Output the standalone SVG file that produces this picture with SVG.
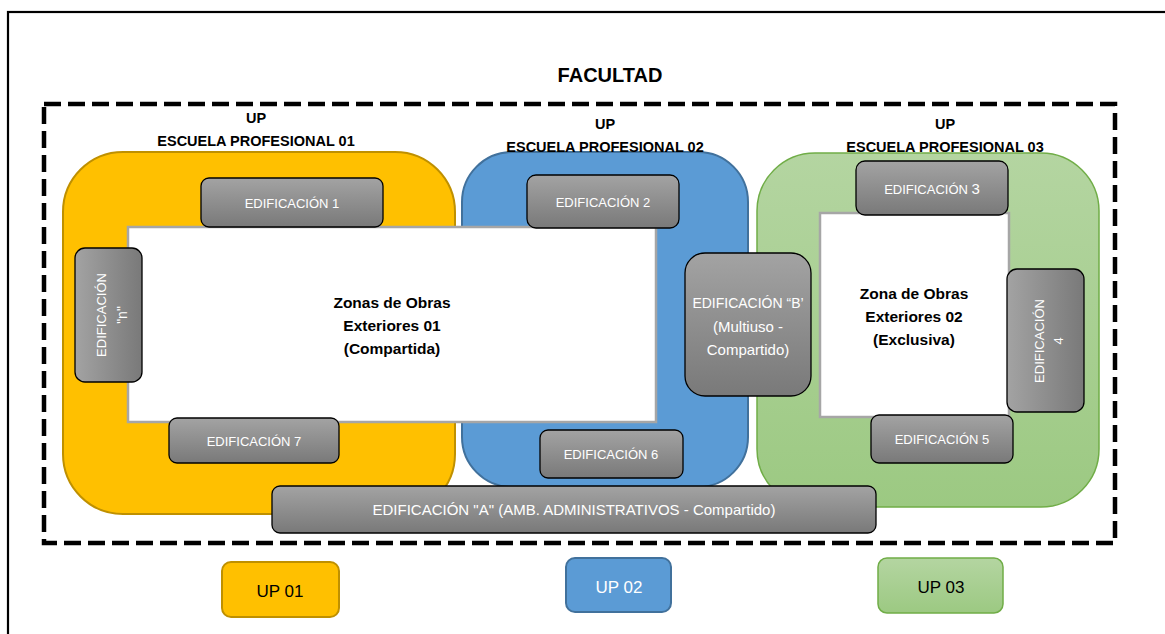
<svg xmlns="http://www.w3.org/2000/svg" width="1165" height="634" viewBox="0 0 1165 634">
<defs>
<linearGradient id="gv" x1="0" y1="0" x2="0" y2="1"><stop offset="0" stop-color="#A3A3A3"/><stop offset="1" stop-color="#797979"/></linearGradient>
<linearGradient id="gh" x1="0" y1="0" x2="1" y2="0"><stop offset="0" stop-color="#A3A3A3"/><stop offset="1" stop-color="#797979"/></linearGradient>
<linearGradient id="gg" x1="0" y1="0" x2="0" y2="1"><stop offset="0" stop-color="#B4D5A1"/><stop offset="1" stop-color="#9CC982"/></linearGradient>
<style>
.ed{fill:url(#gv);stroke:#000;stroke-width:1.3}
.edh{fill:url(#gh);stroke:#000;stroke-width:1.3}
.et{font-family:"Liberation Sans",Arial,sans-serif;font-size:13px;fill:#FFFFFF;text-anchor:middle}
.et14{font-size:14px}
.et15{font-size:15px}
.hd{font-family:"Liberation Sans",Arial,sans-serif;font-weight:bold;font-size:14.5px;fill:#000;text-anchor:middle}
.zt{font-family:"Liberation Sans",Arial,sans-serif;font-weight:bold;font-size:15.5px;fill:#000;text-anchor:middle}
.zone{fill:#FFFFFF;stroke:#A6A6A6;stroke-width:2.5}
.ut{font-family:"Liberation Sans",Arial,sans-serif;font-size:17px;text-anchor:middle}
</style>
</defs>
<rect x="0" y="0" width="1165" height="634" fill="#FFFFFF"/>
<rect id="frame" x="8" y="12" width="1200" height="700" fill="none" stroke="#000" stroke-width="2.2"/>
<g id="title"><text x="610" y="82" font-family="'Liberation Sans',Arial,sans-serif" font-weight="bold" font-size="20" text-anchor="middle">FACULTAD</text></g>
<g id="facultad-boundary"><rect x="44" y="104" width="1071" height="439" fill="none" stroke="#000" stroke-width="4.5" stroke-dasharray="17 7"/></g>

<g id="up01">
<rect x="63" y="152" width="392" height="362" rx="60" fill="#FFC000" stroke="#BF9000" stroke-width="2"/>
<text class="hd" x="256" y="123">UP</text>
<text class="hd" x="256" y="146">ESCUELA PROFESIONAL 01</text>
</g>
<g id="up02">
<rect x="462" y="152" width="286" height="335" rx="50" fill="#5B9BD5" stroke="#41719C" stroke-width="2"/>
<text class="hd" x="605" y="129">UP</text>
<text class="hd" x="605" y="152">ESCUELA PROFESIONAL 02</text>
</g>
<g id="up03">
<rect x="757" y="153" width="342" height="354" rx="58" fill="url(#gg)" stroke="#70AD47" stroke-width="1.5"/>
<text class="hd" x="945" y="129">UP</text>
<text class="hd" x="945" y="152">ESCUELA PROFESIONAL 03</text>
</g>

<g id="zona1">
<rect class="zone" x="128" y="227" width="528" height="195"/>
<text class="zt" x="392" y="308">Zonas de Obras</text>
<text class="zt" x="392" y="331">Exteriores 01</text>
<text class="zt" x="392" y="354">(Compartida)</text>
</g>
<g id="zona2">
<rect class="zone" x="820" y="213" width="189" height="204"/>
<text class="zt" x="914" y="299">Zona de Obras</text>
<text class="zt" x="914" y="322">Exteriores 02</text>
<text class="zt" x="914" y="345">(Exclusiva)</text>
</g>

<g id="ed1"><rect class="ed" x="201" y="178" width="182" height="49" rx="8"/><text class="et" x="292" y="208">EDIFICACIÓN 1</text></g>
<g id="ed2"><rect class="ed" x="527" y="175" width="152" height="53" rx="9"/><text class="et" x="603" y="207">EDIFICACIÓN 2</text></g>
<g id="ed3"><rect class="ed" x="856" y="161" width="152" height="54" rx="9"/><text class="et" x="932" y="194">EDIFICACIÓN <tspan style="font-size:15px">3</tspan></text></g>
<g id="edn"><rect class="edh" x="75" y="248" width="67" height="134" rx="10"/>
<g transform="translate(108.5,315) rotate(-90)"><text class="et" x="0" y="-3">EDIFICACIÓN</text><text class="et et14" x="0" y="18">"n"</text></g></g>
<g id="ed4"><rect class="edh" x="1007" y="269" width="77" height="143" rx="10"/>
<g transform="translate(1045.5,341) rotate(-90)"><text class="et" x="0" y="-2">EDIFICACIÓN</text><text class="et" x="0" y="17">4</text></g></g>
<g id="edB"><rect class="ed" x="685" y="253" width="126" height="143" rx="20"/>
<text class="et et14" x="748" y="308">EDIFICACIÓN “B’</text>
<text class="et et15" x="748" y="332">(Multiuso -</text>
<text class="et et15" x="748" y="355">Compartido)</text></g>
<g id="ed5"><rect class="ed" x="871" y="415" width="142" height="48" rx="8"/><text class="et" x="942" y="444">EDIFICACIÓN 5</text></g>
<g id="ed6"><rect class="ed" x="540" y="430" width="143" height="48" rx="8"/><text class="et" x="611" y="459">EDIFICACIÓN 6</text></g>
<g id="ed7"><rect class="ed" x="169" y="418" width="170" height="45" rx="8"/><text class="et" x="254" y="446">EDIFICACIÓN 7</text></g>
<g id="edA"><rect class="ed" x="272" y="486" width="604" height="47" rx="8"/><text class="et et15" x="574" y="515">EDIFICACIÓN "A" (AMB. ADMINISTRATIVOS - Compartido)</text></g>

<g id="leg01"><rect x="222" y="562" width="117" height="55" rx="9" fill="#FFC000" stroke="#BF9000" stroke-width="2"/><text class="ut" x="280" y="597" fill="#000">UP 01</text></g>
<g id="leg02"><rect x="566" y="558" width="105" height="54" rx="9" fill="#5B9BD5" stroke="#41719C" stroke-width="2"/><text class="ut" x="619" y="593" fill="#FFFFFF">UP 02</text></g>
<g id="leg03"><rect x="878" y="558" width="125" height="55" rx="9" fill="url(#gg)" stroke="#70AD47" stroke-width="1.5"/><text class="ut" x="941" y="593" fill="#000">UP 03</text></g>
<g id="connectors"/>
</svg>
